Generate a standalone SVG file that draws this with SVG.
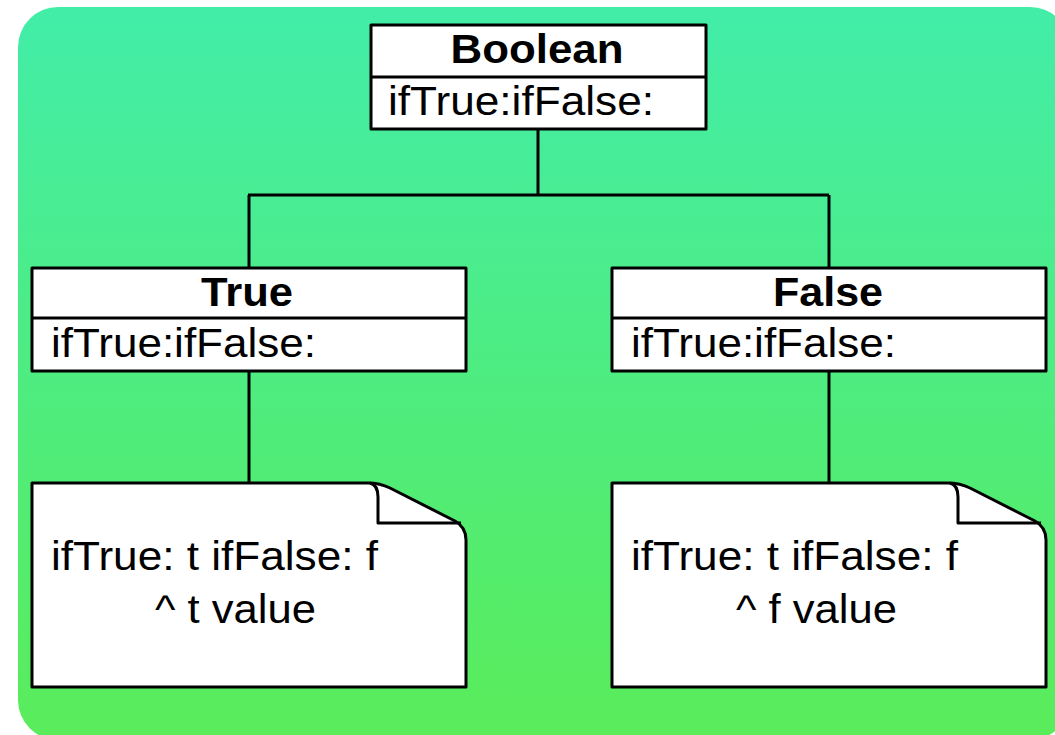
<svg xmlns="http://www.w3.org/2000/svg" width="1055" height="735" viewBox="0 0 1055 735">
<defs>
<linearGradient id="bg" x1="0" y1="0" x2="0" y2="1">
<stop offset="0" stop-color="#42EDA8"/>
<stop offset="1" stop-color="#5AEC5A"/>
</linearGradient>
</defs>
<style>
.box{fill:#fff;stroke:#000;stroke-width:3;stroke-linejoin:round}
.ln{fill:none;stroke:#000;stroke-width:3}
.t{font-family:"Liberation Sans",Arial,sans-serif;font-size:40px;fill:#000}
.b{font-weight:bold;text-anchor:middle}
</style>
<rect x="18" y="7" width="1052" height="733" rx="40" ry="40" fill="url(#bg)"/>
<g id="connectors">
<path class="ln" d="M538,129 V195 M248,195 H829 M249,195 V268 M829,195 V268 M249,371 V483 M829,371 V483"/>
</g>
<g id="boolean">
<rect class="box" x="371" y="25" width="335" height="104"/>
<line class="ln" x1="371" y1="77" x2="706" y2="77"/>
<text class="t b" x="537" y="63" font-size="38" textLength="173" lengthAdjust="spacingAndGlyphs">Boolean</text>
<text class="t" x="388" y="115" textLength="266" lengthAdjust="spacingAndGlyphs">ifTrue:ifFalse:</text>
</g>
<g id="true">
<rect class="box" x="32" y="268" width="434" height="103"/>
<line class="ln" x1="32" y1="318" x2="466" y2="318"/>
<text class="t b" x="247" y="306" textLength="92" lengthAdjust="spacingAndGlyphs">True</text>
<text class="t" x="51" y="357" textLength="265" lengthAdjust="spacingAndGlyphs">ifTrue:ifFalse:</text>
</g>
<g id="false">
<rect class="box" x="612" y="268" width="434" height="103"/>
<line class="ln" x1="612" y1="318" x2="1046" y2="318"/>
<text class="t b" x="828" y="306" textLength="110" lengthAdjust="spacingAndGlyphs">False</text>
<text class="t" x="631" y="357" textLength="265" lengthAdjust="spacingAndGlyphs">ifTrue:ifFalse:</text>
</g>
<g id="note-true">
<path class="box" d="M32,483 H368 Q380,483 390,488 L455,521 Q466,527 466,540 V687 H32 Z"/>
<path class="ln" d="M370,483 Q378,485 378,497 V523 H461" stroke-linejoin="round"/>
<text class="t" x="51" y="570" textLength="327" lengthAdjust="spacingAndGlyphs">ifTrue: t ifFalse: f</text>
<text class="t" x="155" y="623" textLength="161" lengthAdjust="spacingAndGlyphs">^ t value</text>
</g>
<g id="note-false">
<path class="box" d="M612,483 H948 Q960,483 970,488 L1035,521 Q1046,527 1046,540 V687 H612 Z"/>
<path class="ln" d="M950,483 Q958,485 958,497 V523 H1041" stroke-linejoin="round"/>
<text class="t" x="631" y="570" textLength="327" lengthAdjust="spacingAndGlyphs">ifTrue: t ifFalse: f</text>
<text class="t" x="736" y="623" textLength="161" lengthAdjust="spacingAndGlyphs">^ f value</text>
</g>
</svg>
